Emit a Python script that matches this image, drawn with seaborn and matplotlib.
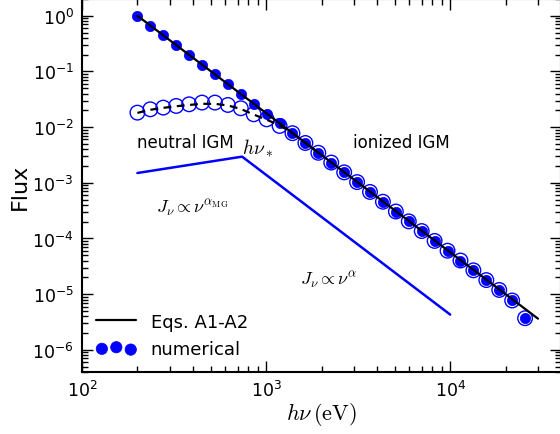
import matplotlib
matplotlib.use("Agg")
import matplotlib.pyplot as plt
import matplotlib.ticker as mticker
import seaborn as sns
import numpy as np
from matplotlib.lines import Line2D

# ---------------- data ----------------
energy_ev = [200, 235.0, 276.3, 324.8, 381.8, 448.7, 527.5, 620.0, 728.9, 856.7,
             1007, 1184, 1391, 1635, 1922, 2259, 2656, 3122, 3669, 4313,
             5070, 5959, 7005, 8233, 9678, 11376, 13372, 15718, 18475, 21716, 25527]

flux_ionized = [1.0, 0.667, 0.445, 0.297, 0.198, 0.132, 0.0883, 0.0589, 0.0393, 0.0262,
                0.0175, 0.0117, 0.00778, 0.00519, 0.00346, 0.00231, 0.00154, 0.00103,
                6.85e-4, 4.57e-4, 3.05e-4, 2.03e-4, 1.36e-4, 9.04e-5, 6.03e-5, 4.02e-5,
                2.68e-5, 1.79e-5, 1.19e-5, 7.7e-6, 3.7e-6]

flux_neutral = [0.0182, 0.0209, 0.0224, 0.0240, 0.0257, 0.0276, 0.0276, 0.0250, 0.0218, 0.0170,
                0.0138, 0.0105, 0.00778, 0.00519, 0.00346, 0.00231, 0.00154, 0.00103,
                6.85e-4, 4.57e-4, 3.05e-4, 2.03e-4, 1.36e-4, 9.04e-5, 6.03e-5, 4.02e-5,
                2.68e-5, 1.79e-5, 1.19e-5, 7.7e-6, 3.7e-6]

model_ionized_x = [200, 30000]
model_ionized_y = [1.0, 3.63e-6]

model_neutral_x = [200, 235.0, 276.3, 324.8, 381.8, 448.7, 527.5, 620.0, 728.9, 856.7,
                   1007, 1184, 1391, 1635, 1922]
model_neutral_y = [0.0180, 0.0205, 0.0222, 0.0237, 0.0250, 0.0262, 0.0262, 0.0245, 0.0212, 0.0168,
                   0.0136, 0.0108, 0.00778, 0.00519, 0.00346]

schematic_x = [200, 741, 10000]
schematic_y = [1.5e-3, 2.95e-3, 4.3e-6]

# ---------------- style ----------------
sns.set_style("ticks")
plt.rcParams["font.family"] = ["DejaVu Sans"]
plt.rcParams["mathtext.fontset"] = "cm"
plt.rcParams["xtick.direction"] = "in"
plt.rcParams["ytick.direction"] = "in"
for key in ["text.color", "axes.labelcolor", "xtick.color", "ytick.color", "axes.edgecolor"]:
    plt.rcParams[key] = "black"

fig = plt.figure(figsize=(5.6, 4.35), dpi=100)
ax = fig.add_axes([82 / 560, 62 / 435, 479 / 560, 373 / 435])
ax.set_xscale("log")
ax.set_yscale("log")

# open circles (neutral IGM numerical)
sns.scatterplot(x=energy_ev, y=flux_neutral, ax=ax, s=110, facecolor="none",
                edgecolor="blue", linewidth=1.0, zorder=2)
# filled dots (ionized IGM numerical)
sns.scatterplot(x=energy_ev, y=flux_ionized, ax=ax, s=55, color="blue",
                edgecolor="blue", linewidth=0.5, zorder=3)
scat_handle = ax.collections[-1]

# model curves
sns.lineplot(x=model_neutral_x, y=model_neutral_y, ax=ax, color="black", lw=1.6,
             linestyle=(0, (3.5, 2.5)), estimator=None, sort=False, zorder=4)
sns.lineplot(x=model_ionized_x, y=model_ionized_y, ax=ax, color="black", lw=1.6,
             estimator=None, sort=False, zorder=5)
sns.lineplot(x=schematic_x, y=schematic_y, ax=ax, color="blue", lw=1.8,
             estimator=None, sort=False, zorder=4)

x_major = [1e2, 1e3, 1e4]
y_major = [1e-6, 1e-5, 1e-4, 1e-3, 1e-2, 1e-1, 1e0]
x_minor = [m * 10.0 ** e for e in range(2, 5) for m in range(2, 10)]
y_minor = [m * 10.0 ** e for e in range(-7, 1) for m in range(2, 10)]
ax.xaxis.set_major_locator(mticker.FixedLocator(x_major))
ax.yaxis.set_major_locator(mticker.FixedLocator(y_major))
ax.xaxis.set_major_formatter(mticker.LogFormatterSciNotation())
ax.yaxis.set_major_formatter(mticker.LogFormatterSciNotation())
ax.xaxis.set_minor_locator(mticker.FixedLocator(x_minor))
ax.yaxis.set_minor_locator(mticker.FixedLocator(y_minor))
ax.xaxis.set_minor_formatter(mticker.NullFormatter())
ax.yaxis.set_minor_formatter(mticker.NullFormatter())
ax.set_xlim(100, 4e4)
ax.set_ylim(4e-7, 2)

for side in ["left", "right", "top", "bottom"]:
    ax.spines[side].set_linewidth(1.5)
    ax.spines[side].set_color("black")

ax.tick_params(which="both", top=True, right=True, bottom=True, left=True,
               direction="in", labelsize=12.5, colors="black")
ax.tick_params(which="major", length=8, width=1.0, pad=6)
ax.tick_params(which="minor", length=4, width=1.0)

ax.set_xlabel(r"$h\nu\,(\mathrm{eV})$", fontsize=16, labelpad=0)
ax.set_ylabel("Flux", fontsize=16, labelpad=2)

# annotations
ax.text(200, 5.5e-3, "neutral IGM", fontsize=12, ha="left", va="center")
ax.text(2980, 5.5e-3, "ionized IGM", fontsize=12, ha="left", va="center")
ax.text(741, 4.4e-3, r"$h\nu_*$", fontsize=14, ha="left", va="center")
ax.text(251, 3.56e-4, r"$J_\nu \propto \nu^{\alpha_{\rm MG}}$", fontsize=13, ha="left", va="center")
ax.text(1535, 1.82e-5, r"$J_\nu \propto \nu^{\alpha}$", fontsize=13, ha="left", va="center")

line_handle = Line2D([], [], color="black", lw=1.6)
ax.legend(handles=[line_handle, scat_handle], labels=["Eqs. A1-A2", "numerical"],
          loc="lower left", frameon=False, fontsize=13, scatterpoints=3, markerscale=1.1,
          handlelength=2.2, borderaxespad=0.4, labelspacing=0.5)

fig.savefig("out.png", dpi=100)
